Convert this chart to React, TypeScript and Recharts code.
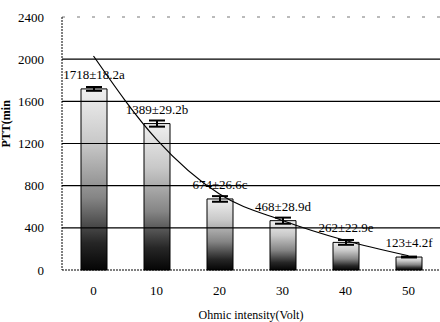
import {
  ComposedChart,
  Bar,
  Line,
  XAxis,
  YAxis,
  ErrorBar,
  LabelList,
  ReferenceLine,
} from 'recharts';

// Ohmic intensity (Volt) vs PTT (min)
const voltages = ['0', '10', '20', '30', '40', '50'];
const pttMeans = [1718, 1389, 674, 468, 262, 123];
const pttErrors = [18.2, 29.2, 26.6, 28.9, 22.9, 4.2];
const pttLabels = ['1718±18.2a', '1389±29.2b', '674±26.6c', '468±28.9d', '262±22.9e', '123±4.2f'];
// fitted decay curve
const trendValues = [2030, 1240, 720, 470, 280, 135];

const yTicks = [0, 400, 800, 1200, 1600, 2000, 2400];
const gridValues = [400, 800, 1200, 1600, 2000];

const data = voltages.map((v, i) => ({
  volt: v,
  ptt: pttMeans[i],
  err: pttErrors[i],
  label: pttLabels[i],
  trend: trendValues[i],
}));

const serif = '"Times New Roman", "Liberation Serif", serif';
const tickStyle = { fontSize: 13, fill: '#000', fontFamily: serif };

export default function App() {
  return (
    <div
      style={{
        position: 'absolute',
        left: 0,
        top: 0,
        width: 440,
        height: 322,
        background: '#fff',
        fontFamily: serif,
      }}
    >
      <ComposedChart
        width={440}
        height={322}
        data={data}
        margin={{ top: 17, right: 0, bottom: 0, left: 0 }}
      >
        <defs>
          <linearGradient id="barGrad" x1="0" y1="0" x2="0" y2="1">
            <stop offset="0%" stopColor="#f0f0f0" />
            <stop offset="30%" stopColor="#c8c8c8" />
            <stop offset="60%" stopColor="#858585" />
            <stop offset="85%" stopColor="#262626" />
            <stop offset="100%" stopColor="#050505" />
          </linearGradient>
        </defs>
        <XAxis
          dataKey="volt"
          tick={tickStyle}
          tickLine={false}
          axisLine={{ stroke: '#000', strokeDasharray: '2 1' }}
          tickMargin={10}
          height={52}
          label={{
            value: 'Ohmic intensity(Volt)',
            position: 'insideBottom',
            offset: 3,
            style: { fontSize: 12, fill: '#000', fontFamily: serif },
          }}
        />
        <YAxis
          domain={[0, 2400]}
          ticks={yTicks}
          interval={0}
          width={62}
          tick={tickStyle}
          tickLine={false}
          tickMargin={12}
          axisLine={{ stroke: '#000', strokeDasharray: '2 1' }}
          label={{
            value: 'PTT(min',
            angle: -90,
            position: 'insideLeft',
            offset: 6,
            dy: 4,
            style: { fontSize: 12, fill: '#000', fontFamily: serif, fontWeight: 'bold' },
          }}
        />
        {gridValues.map((v) => (
          <ReferenceLine key={v} y={v} stroke="#000" strokeWidth={1.2} />
        ))}
        <ReferenceLine y={2400} stroke="#777" strokeDasharray="3 12" />
        <Bar
          dataKey="ptt"
          barSize={26}
          fill="url(#barGrad)"
          stroke="#000"
          strokeWidth={1}
          isAnimationActive={false}
        >
          <ErrorBar dataKey="err" width={8} stroke="#000" strokeWidth={2} />
          <LabelList
            dataKey="label"
            position="top"
            offset={10}
            style={{ fontSize: 13, fill: '#000', fontFamily: serif }}
          />
        </Bar>
        <Line
          dataKey="trend"
          type="monotone"
          stroke="#000"
          strokeWidth={1.2}
          dot={false}
          isAnimationActive={false}
        />
      </ComposedChart>
    </div>
  );
}
